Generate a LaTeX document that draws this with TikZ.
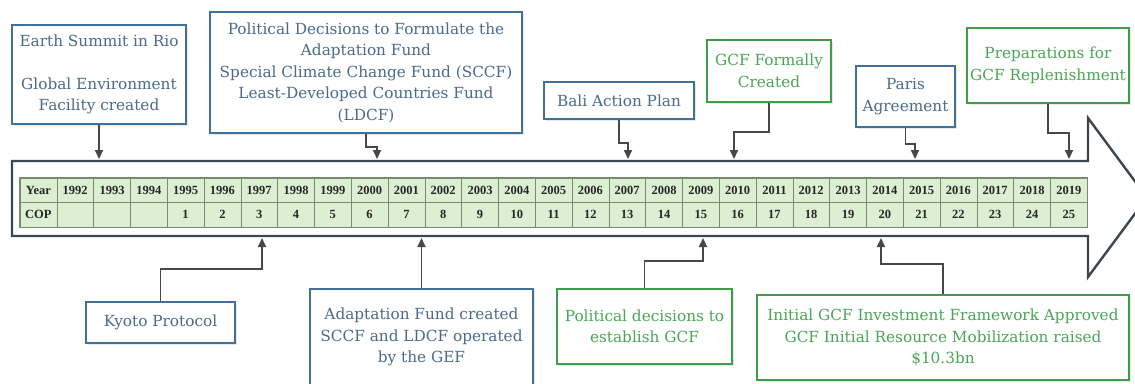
\documentclass[tikz,border=0pt]{standalone}
\usepackage{fontspec}
\newfontfamily\boxfont{DejaVu Serif}
\newfontfamily\cellfont{Liberation Serif}
\usetikzlibrary{arrows.meta,shadows}
\definecolor{blueline}{HTML}{41709A}
\definecolor{bluetext}{HTML}{4A6B8A}
\definecolor{greenline}{HTML}{3E9C4B}
\definecolor{greentext}{HTML}{4AA656}
\definecolor{outline}{HTML}{3C4650}
\definecolor{conngray}{HTML}{474747}
\definecolor{tablefill}{HTML}{DDEFD2}
\definecolor{tableline}{HTML}{7A8A70}
\tikzset{
  event/.style={draw=#1, line width=2pt, fill=white, align=center, inner sep=0pt,
    drop shadow={shadow xshift=1.5pt, shadow yshift=-1.5pt, opacity=0.18},
    font=\boxfont\fontsize{15.3}{21.5}\selectfont},
  bevent/.style={event=blueline, text=bluetext},
  gevent/.style={event=greenline, text=greentext},
  cell/.style={draw=tableline, fill=tablefill, line width=0.6pt, inner sep=0pt,
    minimum width=36.8pt, minimum height=24.5pt, text=black!85,
    font=\cellfont\bfseries\fontsize{12.5}{14}\selectfont},
  conn/.style={draw=conngray, line width=1.8pt, -{Triangle[length=9pt,width=8pt]}}
}
\begin{document}
\begin{tikzpicture}[x=1pt,y=-1pt]
  \useasboundingbox (0,0) rectangle (1135,383);
  % timeline arrow
  \draw[outline, line width=2.4pt, line join=miter]
    (12,161) -- (1088,161) -- (1088,118) -- (1147,197.5) -- (1088,277)
    -- (1088,236) -- (12,236) -- cycle;
  % table of years and COPs
  \foreach \i in {0,...,28}{
    \pgfmathtruncatemacro\yr{1991+\i}
    \pgfmathtruncatemacro\cop{\i-3}
    \node[cell] (y\i) at ({20+36.8*(\i+0.5)},190.25)
      {\ifnum\i=0 Year\else\yr\fi};
    \node[cell] (c\i) at ({20+36.8*(\i+0.5)},214.75)
      {\ifnum\i=0 COP\else\ifnum\cop>0 \cop\fi\fi};
  }
  \draw[tableline, line width=1pt] (y0.north west) rectangle (c28.south east);
  % events above
  \node[bevent, minimum width=174pt, minimum height=99pt] (rio) at (99,74.5)
    {Earth Summit in Rio\\[21.5pt]Global Environment\\Facility created};
  \node[bevent, minimum width=312pt, minimum height=121pt] (funds) at (366,72.5)
    {Political Decisions to Formulate the\\Adaptation Fund\\Special Climate Change Fund (SCCF)\\Least-Developed Countries Fund\\(LDCF)};
  \node[bevent, minimum width=150pt, minimum height=37pt] (bali) at (619,100.5)
    {Bali Action Plan};
  \node[gevent, minimum width=124pt, minimum height=62pt] (gcf) at (769,71)
    {GCF Formally\\Created};
  \node[bevent, minimum width=99pt, minimum height=61pt] (paris) at (905.5,96.5)
    {Paris\\Agreement};
  \node[gevent, minimum width=162pt, minimum height=75pt] (replen) at (1048,65.5)
    {Preparations for\\GCF Replenishment};
  % events below
  \node[bevent, minimum width=149pt, minimum height=41pt] (kyoto) at (160.5,322.5)
    {Kyoto Protocol};
  \node[bevent, minimum width=223pt, minimum height=96pt] (af) at (421.5,337)
    {Adaptation Fund created\\SCCF and LDCF operated\\by the GEF};
  \node[gevent, minimum width=175pt, minimum height=75pt] (estab) at (644.5,326.5)
    {Political decisions to\\establish GCF};
  \node[gevent, minimum width=372pt, minimum height=85pt] (irm) at (943,337.5)
    {Initial GCF Investment Framework Approved\\GCF Initial Resource Mobilization raised\\\$10.3bn};
  % landing points on the arrow
  \coordinate (top) at (0,159);
  \coordinate (bot) at (0,238);
  \coordinate (hfunds) at (377,159);
  \coordinate (hbali) at (628,159);
  \coordinate (hgcf) at (734,159);
  \coordinate (hparis) at (915,159);
  \coordinate (hreplen) at (1069,159);
  \coordinate (hkyoto) at (262,238);
  \coordinate (hestab) at (703,238);
  \coordinate (hirm) at (881,238);
  % connectors
  \draw[conn] (rio.south) -- (rio.south |- top);
  \draw[conn] (funds.south) -- ++(0,13) -| (hfunds);
  \draw[conn] (bali.south) -- ++(0,23) -| (hbali);
  \draw[conn] (gcf.south) -- ++(0,29) -| (hgcf);
  \draw[conn] (paris.south) -- ++(0,16) -| (hparis);
  \draw[conn] (replen.south) -- ++(0,29) -| (hreplen);
  \draw[conn] (kyoto.north) -- ++(0,-32) -| (hkyoto);
  \draw[conn] (af.north) -- (af.north |- bot);
  \draw[conn] (estab.north) -- ++(0,-27) -| (hestab);
  \draw[conn] (irm.north) -- ++(0,-30) -| (hirm);
\end{tikzpicture}
\end{document}
